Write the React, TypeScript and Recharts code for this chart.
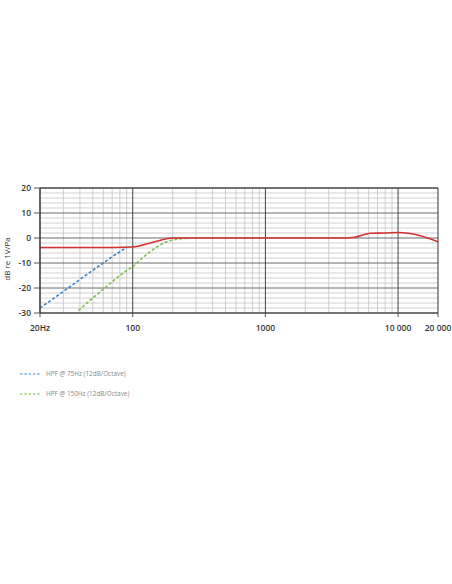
import React from "react"
import { ComposedChart, Line, XAxis, YAxis, ReferenceLine } from "recharts"

// main response
const responseFreqs = [20, 50, 100, 140, 200, 300, 1000, 4000, 4700, 5500, 6300, 8000, 10000, 12000, 15000, 20000]
const responseDb = [-3.8, -3.8, -3.6, -1.8, 0, 0, 0, 0, 0.3, 1.3, 1.9, 2, 2.2, 1.9, 0.8, -1.5]

// HPF @ 75Hz
const hpf75Freqs = [20, 30, 40, 50, 60, 70, 80, 90]
const hpf75Db = [-28, -21.4, -16.6, -12.9, -10, -7.5, -5.5, -3.7]

// HPF @ 150Hz
const hpf150Freqs = [39, 50, 60, 70, 80, 90, 100, 115, 130, 150, 175, 200, 230, 270]
const hpf150Db = [-29, -24, -20.5, -17.5, -15, -13, -11.5, -8.5, -6.2, -3.8, -1.8, -0.8, -0.3, 0]

const xTicks = [20, 100, 1000, 10000, 20000]
const xTickLabels = ["20Hz", "100", "1000", "10 000", "20 000"]
const yTicks = [-30, -20, -10, 0, 10, 20]
const majorFreqs = [100, 1000, 10000]
const minorFreqs = [30, 40, 50, 60, 70, 80, 90, 200, 300, 400, 500, 600, 700, 800, 900, 2000, 3000, 4000, 5000, 6000, 7000, 8000, 9000]
const minorDb = [-28, -26, -24, -22, -18, -16, -14, -12, -8, -6, -4, -2, 2, 4, 6, 8, 12, 14, 16, 18]

const toPoints = (f: number[], v: number[]) => f.map((x, i) => ({ f: x, db: v[i] }))

const response = toPoints(responseFreqs, responseDb)
const hpf75 = toPoints(hpf75Freqs, hpf75Db)
const hpf150 = toPoints(hpf150Freqs, hpf150Db)

const font = "'Open Sans', 'DejaVu Sans', sans-serif"

const YLabel = () => (
  <text x={10} y={259} transform="rotate(-90 10 259)" textAnchor="middle" fontSize={8} fill="#333" fontFamily={font}>
    dB re 1V/Pa
  </text>
)

export default function App() {
  return (
    <div style={{ position: "absolute", left: 0, top: 0, width: 452, height: 584, background: "#fff", fontFamily: font }}>
      <ComposedChart width={452} height={584} margin={{ top: 188, right: 14, left: 10, bottom: 251 }}>
        <XAxis
          type="number"
          dataKey="f"
          scale="log"
          domain={[20, 20000]}
          ticks={xTicks}
          tickFormatter={(v: number) => xTickLabels[xTicks.indexOf(v)]}
          allowDataOverflow
          height={20}
          axisLine={{ stroke: "#333" }}
          tickLine={{ stroke: "#555" }}
          tickSize={4}
          tickMargin={8}
          interval={0}
          tick={{ fontSize: 8.5, fontWeight: 600, fill: "#333", fontFamily: font }}
        />
        <YAxis
          type="number"
          dataKey="db"
          domain={[-30, 20]}
          ticks={yTicks}
          allowDataOverflow
          width={30}
          axisLine={{ stroke: "#333" }}
          tickLine={{ stroke: "#555" }}
          tickSize={6}
          tickMargin={3}
          interval={0}
          tick={{ fontSize: 8.5, fontWeight: 600, fill: "#333", fontFamily: font }}
          label={<YLabel />}
        />
        {minorDb.map((d) => (
          <ReferenceLine key={"hm" + d} y={d} stroke="#c4c4c4" strokeWidth={0.8} />
        ))}
        {minorFreqs.map((f) => (
          <ReferenceLine key={"vm" + f} x={f} stroke="#c4c4c4" strokeWidth={0.8} />
        ))}
        {yTicks.map((d) => (
          <ReferenceLine key={"hM" + d} y={d} stroke="#6a6a6a" strokeWidth={1} />
        ))}
        {majorFreqs.map((f) => (
          <ReferenceLine key={"vM" + f} x={f} stroke="#444" strokeWidth={1} />
        ))}
        <ReferenceLine x={20} stroke="#333" strokeWidth={1} />
        <ReferenceLine x={20000} stroke="#333" strokeWidth={1} />
        <ReferenceLine y={20} stroke="#333" strokeWidth={1} />
        <Line data={hpf75} dataKey="db" type="monotone" stroke="#3d86c6" strokeWidth={1.6} strokeDasharray="3 2" dot={false} isAnimationActive={false} />
        <Line data={hpf150} dataKey="db" type="monotone" stroke="#7cbd4c" strokeWidth={1.6} strokeDasharray="3 2" dot={false} isAnimationActive={false} />
        <Line data={response} dataKey="db" type="monotone" stroke="#d2332e" strokeWidth={1.6} dot={false} isAnimationActive={false} />
      </ComposedChart>
      <div style={{ position: "absolute", left: 20, top: 369, fontSize: 6.4, color: "#888", display: "flex", alignItems: "center" }}>
        <svg width={20} height={6}><line x1={0} y1={3} x2={20} y2={3} stroke="#3d86c6" strokeWidth={1.2} strokeDasharray="2.5 1.8" /></svg>
        <span style={{ marginLeft: 6 }}>HPF @ 75Hz (12dB/Octave)</span>
      </div>
      <div style={{ position: "absolute", left: 20, top: 389, fontSize: 6.4, color: "#888", display: "flex", alignItems: "center" }}>
        <svg width={20} height={6}><line x1={0} y1={3} x2={20} y2={3} stroke="#7cbd4c" strokeWidth={1.2} strokeDasharray="2.5 1.8" /></svg>
        <span style={{ marginLeft: 6 }}>HPF @ 150Hz (12dB/Octave)</span>
      </div>
    </div>
  )
}
